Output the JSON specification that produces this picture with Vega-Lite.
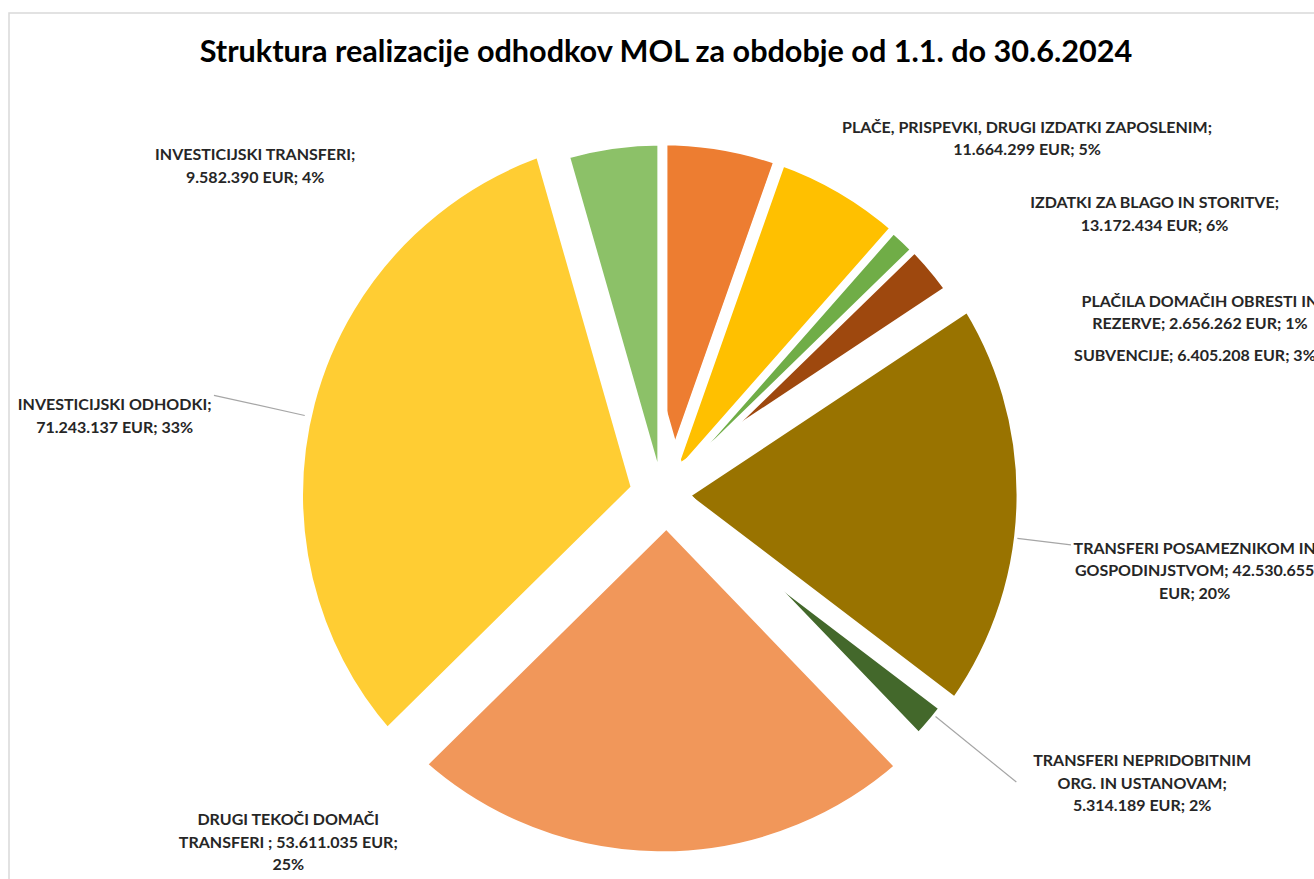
{
  "$schema": "https://vega.github.io/schema/vega-lite/v6.json",
  "width": 1306,
  "height": 964,
  "autosize": {"type": "pad"},
  "padding": {"left": 9, "top": 13, "right": 0, "bottom": 0},
  "background": "white",
  "view": {"stroke": "#d9d9d9", "strokeWidth": 1.5},
  "config": {
    "view": {"stroke": "#d9d9d9", "strokeWidth": 1.5},
    "style": {"cell": {"stroke": "#d9d9d9", "strokeWidth": 1.5}, "view": {"stroke": "#d9d9d9", "strokeWidth": 1.5}},
    "font": "Lato"
  },
  "title": {
    "text": "Struktura realizacije odhodkov MOL za obdobje od 1.1. do 30.6.2024",
    "font": "Lato", "fontSize": 30.6, "fontWeight": "bold", "color": "#000000",
    "anchor": "middle", "frame": "group", "offset": 0, "baseline": "alphabetic", "dy": 80, "dx": 4
  },
  "data": {"values": [
    {"red": 1, "kategorija": "PLAČE, PRISPEVKI, DRUGI IZDATKI ZAPOSLENIM", "znesek": 11664299, "label": "PLAČE, PRISPEVKI, DRUGI IZDATKI ZAPOSLENIM;\n11.664.299 EUR; 5%"},
    {"red": 2, "kategorija": "IZDATKI ZA BLAGO IN STORITVE", "znesek": 13172434, "label": "IZDATKI ZA BLAGO IN STORITVE;\n13.172.434 EUR; 6%"},
    {"red": 3, "kategorija": "PLAČILA DOMAČIH OBRESTI IN REZERVE", "znesek": 2656262, "label": "PLAČILA DOMAČIH OBRESTI IN\nREZERVE; 2.656.262 EUR; 1%"},
    {"red": 4, "kategorija": "SUBVENCIJE", "znesek": 6405208, "label": "SUBVENCIJE; 6.405.208 EUR; 3%"},
    {"red": 5, "kategorija": "TRANSFERI POSAMEZNIKOM IN GOSPODINJSTVOM", "znesek": 42530655, "label": "TRANSFERI POSAMEZNIKOM IN\nGOSPODINJSTVOM; 42.530.655\nEUR; 20%"},
    {"red": 6, "kategorija": "TRANSFERI NEPRIDOBITNIM ORG. IN USTANOVAM", "znesek": 5314189, "label": "TRANSFERI NEPRIDOBITNIM\nORG. IN USTANOVAM;\n5.314.189 EUR; 2%"},
    {"red": 7, "kategorija": "DRUGI TEKOČI DOMAČI TRANSFERI", "znesek": 53611035, "label": "DRUGI TEKOČI DOMAČI\nTRANSFERI ; 53.611.035 EUR;\n25%"},
    {"red": 8, "kategorija": "INVESTICIJSKI ODHODKI", "znesek": 71243137, "label": "INVESTICIJSKI ODHODKI;\n71.243.137 EUR; 33%"},
    {"red": 9, "kategorija": "INVESTICIJSKI TRANSFERI", "znesek": 9582390, "label": "INVESTICIJSKI TRANSFERI;\n9.582.390 EUR; 4%"}
  ]},
  "transform": [
    {"stack": "znesek", "groupby": [], "sort": [{"field": "red", "order": "ascending"}], "offset": "normalize", "as": ["z0", "z1"]}
  ],
  "layer": [
    {
      "mark": {"type": "arc", "stroke": "white", "strokeJoin": "round"},
      "encoding": {
        "theta": {"field": "z0", "type": "quantitative", "scale": {"domain": [0, 1]}},
        "theta2": {"field": "z1"},
        "radius": {"field": "znesek", "type": "quantitative", "scale": {"type": "linear", "domain": [0, 71243137], "range": [349, 387], "zero": false}},
        "radius2": {"value": 0},
        "strokeWidth": {"field": "znesek", "type": "quantitative", "scale": {"type": "linear", "domain": [0, 71243137], "range": [2, 56]}, "legend": null},
        "color": {
          "field": "kategorija", "type": "nominal", "legend": null, "sort": null,
          "scale": {
            "domain": ["PLAČE, PRISPEVKI, DRUGI IZDATKI ZAPOSLENIM", "IZDATKI ZA BLAGO IN STORITVE", "PLAČILA DOMAČIH OBRESTI IN REZERVE", "SUBVENCIJE", "TRANSFERI POSAMEZNIKOM IN GOSPODINJSTVOM", "TRANSFERI NEPRIDOBITNIM ORG. IN USTANOVAM", "DRUGI TEKOČI DOMAČI TRANSFERI", "INVESTICIJSKI ODHODKI", "INVESTICIJSKI TRANSFERI"],
            "range": ["#ED7D31", "#FFC000", "#70AD47", "#9E480E", "#997300", "#43682B", "#F1975A", "#FFCD33", "#8CC168"]
          }
        }
      }
    },
    {
      "transform": [{"filter": "datum.red == 8"}],
      "mark": {"type": "arc", "radius": 459, "radius2": 366, "padAngle": 3.1416, "thetaOffset": -0.038, "theta2Offset": -0.038, "filled": false, "stroke": "#a6a6a6", "strokeWidth": 1.2},
      "encoding": {"theta": {"field": "z0", "type": "quantitative"}, "theta2": {"field": "z1"}}
    },
    {
      "transform": [{"filter": "datum.red == 5"}],
      "mark": {"type": "arc", "radius": 412, "radius2": 358, "padAngle": 3.1416, "thetaOffset": 0.089, "theta2Offset": 0.089, "filled": false, "stroke": "#a6a6a6", "strokeWidth": 1.2},
      "encoding": {"theta": {"field": "z0", "type": "quantitative"}, "theta2": {"field": "z1"}}
    },
    {
      "transform": [{"filter": "datum.red == 6"}],
      "mark": {"type": "arc", "radius": 456, "radius2": 352, "padAngle": 3.1416, "thetaOffset": -0.047, "theta2Offset": -0.047, "filled": false, "stroke": "#a6a6a6", "strokeWidth": 1.2},
      "encoding": {"theta": {"field": "z0", "type": "quantitative"}, "theta2": {"field": "z1"}}
    },
    {
      "transform": [{"filter": "datum.red == 1"}],
      "mark": {"type": "text", "radius": 510, "thetaOffset": 0.7976, "dy": -11, "align": "center", "baseline": "middle", "lineBreak": "\n", "lineHeight": 22.5, "font": "Lato", "fontSize": 16, "fontWeight": "bold", "color": "#262626"},
      "encoding": {"theta": {"field": "z0", "type": "quantitative"}, "text": {"field": "label"}}
    },
    {
      "transform": [{"filter": "datum.red == 2"}],
      "mark": {"type": "text", "radius": 567, "thetaOffset": 0.7138, "dy": -11, "align": "center", "baseline": "middle", "lineBreak": "\n", "lineHeight": 22.5, "font": "Lato", "fontSize": 16, "fontWeight": "bold", "color": "#262626"},
      "encoding": {"theta": {"field": "z0", "type": "quantitative"}, "text": {"field": "label"}}
    },
    {
      "transform": [{"filter": "datum.red == 3"}],
      "mark": {"type": "text", "radius": 568, "thetaOffset": 0.5219, "dy": -11, "align": "center", "baseline": "middle", "lineBreak": "\n", "lineHeight": 22.5, "font": "Lato", "fontSize": 16, "fontWeight": "bold", "color": "#262626"},
      "encoding": {"theta": {"field": "z0", "type": "quantitative"}, "text": {"field": "label"}}
    },
    {
      "transform": [{"filter": "datum.red == 4"}],
      "mark": {"type": "text", "radius": 551, "thetaOffset": 0.5149, "dy": 1, "align": "center", "baseline": "middle", "lineBreak": "\n", "lineHeight": 22.5, "font": "Lato", "fontSize": 16, "fontWeight": "bold", "color": "#262626"},
      "encoding": {"theta": {"field": "z0", "type": "quantitative"}, "text": {"field": "label"}}
    },
    {
      "transform": [{"filter": "datum.red == 5"}],
      "mark": {"type": "text", "radius": 538, "thetaOffset": 0.7269, "dy": -22, "align": "center", "baseline": "middle", "lineBreak": "\n", "lineHeight": 22.5, "font": "Lato", "fontSize": 16, "fontWeight": "bold", "color": "#262626"},
      "encoding": {"theta": {"field": "z0", "type": "quantitative"}, "text": {"field": "label"}}
    },
    {
      "transform": [{"filter": "datum.red == 6"}],
      "mark": {"type": "text", "radius": 560, "thetaOffset": -0.11, "dy": -22, "align": "center", "baseline": "middle", "lineBreak": "\n", "lineHeight": 22.5, "font": "Lato", "fontSize": 16, "fontWeight": "bold", "color": "#262626"},
      "encoding": {"theta": {"field": "z0", "type": "quantitative"}, "text": {"field": "label"}}
    },
    {
      "transform": [{"filter": "datum.red == 7"}],
      "mark": {"type": "text", "radius": 510, "thetaOffset": 1.5882, "dy": -22, "align": "center", "baseline": "middle", "lineBreak": "\n", "lineHeight": 22.5, "font": "Lato", "fontSize": 16, "fontWeight": "bold", "color": "#262626"},
      "encoding": {"theta": {"field": "z0", "type": "quantitative"}, "text": {"field": "label"}}
    },
    {
      "transform": [{"filter": "datum.red == 8"}],
      "mark": {"type": "text", "radius": 553, "thetaOffset": 0.9215, "dy": -11, "align": "center", "baseline": "middle", "lineBreak": "\n", "lineHeight": 22.5, "font": "Lato", "fontSize": 16, "fontWeight": "bold", "color": "#262626"},
      "encoding": {"theta": {"field": "z0", "type": "quantitative"}, "text": {"field": "label"}}
    },
    {
      "transform": [{"filter": "datum.red == 9"}],
      "mark": {"type": "text", "radius": 523, "thetaOffset": -0.6126, "dy": -11, "align": "center", "baseline": "middle", "lineBreak": "\n", "lineHeight": 22.5, "font": "Lato", "fontSize": 16, "fontWeight": "bold", "color": "#262626"},
      "encoding": {"theta": {"field": "z0", "type": "quantitative"}, "text": {"field": "label"}}
    }
  ]
}
